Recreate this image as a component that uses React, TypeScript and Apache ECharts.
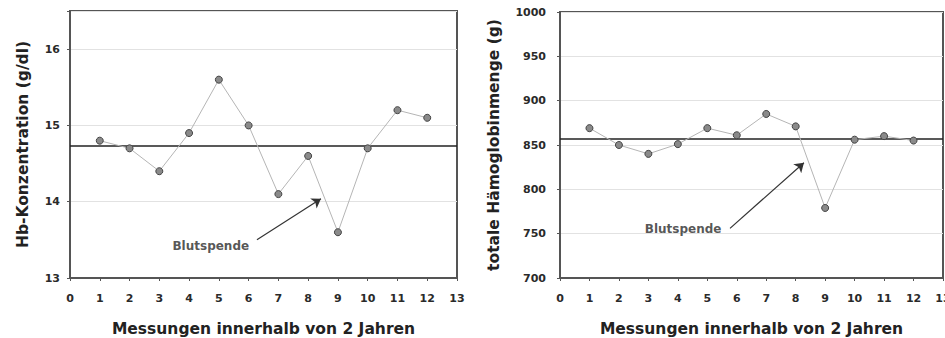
import React, { useEffect, useRef } from "react";
import * as echarts from "echarts";

const measurements = [1, 2, 3, 4, 5, 6, 7, 8, 9, 10, 11, 12];
const hbValues = [14.8, 14.7, 14.4, 14.9, 15.6, 15.0, 14.1, 14.6, 13.6, 14.7, 15.2, 15.1];
const thbValues = [869, 850, 840, 851, 869, 861, 885, 871, 779, 856, 860, 855];
const hbMean = 14.73;
const thbMean = 856.5;
const annotationText = "Blutspende";
const hbArrow = [[6.28, 13.5], [8.43, 14.04]];
const hbLabel = [4.73, 13.42];
const thbArrow = [[5.77, 756], [8.28, 830]];
const thbLabel = [4.18, 755];

const xTitle = "Messungen innerhalb von 2 Jahren";
const hbTitle = "Hb-Konzentration (g/dl)";
const thbTitle = "totale Hämoglobinmenge (g)";

const FONT = "'DejaVu Sans', Verdana, sans-serif";

export default function App() {
  const ref = useRef<HTMLDivElement>(null);
  useEffect(() => {
    if (!ref.current) return;
    const chart = echarts.init(ref.current, null, { renderer: "svg" });
    const titleStyle = { fontFamily: FONT, fontSize: 15.5, fontWeight: "bold", color: "#222" };
    const tickStyle = { fontFamily: FONT, fontSize: 11, fontWeight: "bold", color: "#2a2a2a" };
    const xAxisBase = (gridIndex: number) => ({
      type: "value",
      gridIndex,
      min: 0,
      max: 13,
      interval: 1,
      name: xTitle,
      nameLocation: "middle",
      nameGap: 43,
      nameTextStyle: titleStyle,
      axisLine: { show: true, lineStyle: { color: "#555", width: 2 } },
      axisTick: { show: true, length: 3, lineStyle: { color: "#555" } },
      axisLabel: { ...tickStyle, margin: 15 },
      splitLine: { show: false },
    });
    const seriesFor = (
      idx: number,
      values: number[],
      mean: number,
      arrow: number[][],
      label: number[]
    ) => [
      {
        type: "line",
        xAxisIndex: idx,
        yAxisIndex: idx,
        data: measurements.map((m, i) => [m, values[i]]),
        symbol: "circle",
        symbolSize: 7,
        lineStyle: { color: "#b5b5b5", width: 1 },
        itemStyle: { color: "#8a8a8a", borderColor: "#444", borderWidth: 1 },
        z: 3,
        markLine: {
          silent: true,
          symbol: ["none", "none"],
          label: { show: false },
          lineStyle: { color: "#222", width: 1.5, type: "solid" },
          data: [{ yAxis: mean }],
          z: 2,
        },
      },
      {
        type: "lines",
        coordinateSystem: "cartesian2d",
        xAxisIndex: idx,
        yAxisIndex: idx,
        symbol: ["none", "arrow"],
        symbolSize: 9,
        lineStyle: { color: "#333", width: 1.2, opacity: 1 },
        data: [{ coords: arrow }],
        z: 4,
      },
      {
        type: "scatter",
        xAxisIndex: idx,
        yAxisIndex: idx,
        symbolSize: 0,
        data: [label],
        label: {
          show: true,
          position: "inside",
          formatter: annotationText,
          fontFamily: FONT,
          fontSize: 12,
          fontWeight: "bold",
          color: "#2a2a2a",
        },
        z: 4,
      },
    ];
    chart.setOption({
      animation: false,
      backgroundColor: "#fff",
      grid: [
        { left: 70, top: 11, width: 387, height: 267, show: true, borderColor: "#555", borderWidth: 2, backgroundColor: "transparent", containLabel: false, outerBoundsMode: "none" },
        { left: 560, top: 12, width: 383, height: 266, show: true, borderColor: "#555", borderWidth: 2, backgroundColor: "transparent", containLabel: false, outerBoundsMode: "none" },
      ],
      xAxis: [xAxisBase(0), xAxisBase(1)],
      yAxis: [
        {
          type: "value",
          gridIndex: 0,
          min: 13,
          max: 16.5,
          interval: 1,
          name: hbTitle,
          nameLocation: "middle",
          nameGap: 39,
          nameTextStyle: titleStyle,
          axisLine: { show: true, lineStyle: { color: "#555", width: 2 } },
          axisTick: { show: true, length: 3, lineStyle: { color: "#555" } },
          axisLabel: {
            ...tickStyle,
            margin: 10,
            formatter: (v: number) => (Number.isInteger(v) ? String(v) : ""),
          },
          splitLine: { show: true, lineStyle: { color: "#e2e2e2", width: 1 } },
        },
        {
          type: "value",
          gridIndex: 1,
          min: 700,
          max: 1000,
          interval: 50,
          name: thbTitle,
          nameLocation: "middle",
          nameGap: 58,
          nameTextStyle: titleStyle,
          axisLine: { show: true, lineStyle: { color: "#555", width: 2 } },
          axisTick: { show: true, length: 3, lineStyle: { color: "#555" } },
          axisLabel: { ...tickStyle, margin: 14, formatter: (v: number) => String(v) },
          splitLine: { show: true, lineStyle: { color: "#e2e2e2", width: 1 } },
        },
      ],
      series: [
        ...seriesFor(0, hbValues, hbMean, hbArrow, hbLabel),
        ...seriesFor(1, thbValues, thbMean, thbArrow, thbLabel),
      ],
    });
    return () => chart.dispose();
  }, []);
  return (
    <div
      ref={ref}
      style={{ position: "fixed", left: 0, top: 0, width: 945, height: 338, background: "#fff" }}
    />
  );
}
